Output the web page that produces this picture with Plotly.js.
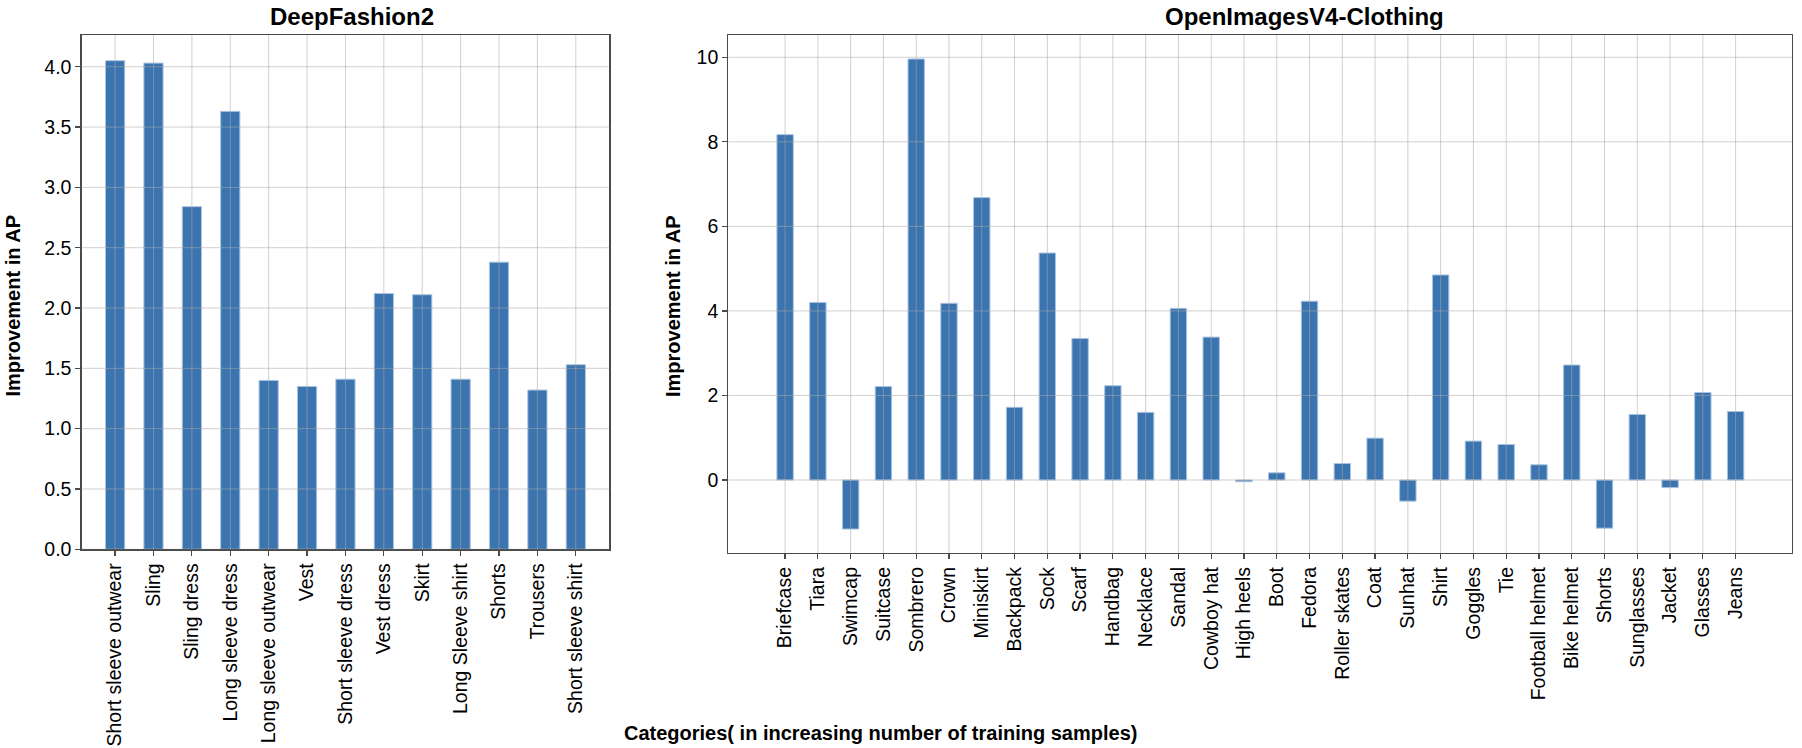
<!DOCTYPE html>
<html>
<head>
<meta charset="utf-8">
<script src="https://cdn.plot.ly/plotly-3.0.1.min.js"></script>
<style>
  html, body { margin: 0; padding: 0; background: #fff; }
  #chart { width: 1802px; height: 748px; }
</style>
</head>
<body>
<div id="chart"></div>
<script>
// DeepFashion2 categories and AP improvements
const dfCategories = ['Short sleeve outwear', 'Sling', 'Sling dress', 'Long sleeve dress',
    'Long sleeve outwear', 'Vest', 'Short sleeve dress', 'Vest dress', 'Skirt',
    'Long Sleeve shirt', 'Shorts', 'Trousers', 'Short sleeve shirt'];
const dfValues = [4.05, 4.03, 2.84, 3.63, 1.40, 1.35, 1.41, 2.12, 2.11, 1.41, 2.38, 1.32, 1.53];

// OpenImagesV4-Clothing categories and AP improvements
const oiCategories = ['Briefcase', 'Tiara', 'Swimcap', 'Suitcase', 'Sombrero', 'Crown',
    'Miniskirt', 'Backpack', 'Sock', 'Scarf', 'Handbag', 'Necklace', 'Sandal', 'Cowboy hat',
    'High heels', 'Boot', 'Fedora', 'Roller skates', 'Coat', 'Sunhat', 'Shirt', 'Goggles',
    'Tie', 'Football helmet', 'Bike helmet', 'Shorts', 'Sunglasses', 'Jacket', 'Glasses', 'Jeans'];
const oiValues = [8.17, 4.20, -1.16, 2.21, 9.96, 4.18, 6.68, 1.72, 5.37, 3.35, 2.23, 1.60,
    4.06, 3.38, -0.04, 0.17, 4.23, 0.39, 0.99, -0.50, 4.85, 0.92, 0.84, 0.36, 2.72, -1.14,
    1.55, -0.18, 2.07, 1.62];

const dfTicks = [0, 0.5, 1.0, 1.5, 2.0, 2.5, 3.0, 3.5, 4.0];
const oiTicks = [0, 2, 4, 6, 8, 10];

const W = 1802, H = 748;
const px = x => x / W;
const py = y => 1 - y / H;

const BAR_COLOR = '#3b74af';
const EDGE_COLOR = '#a8c4e2';
const GRID_COLOR = 'rgba(170,170,170,0.55)';
const SPINE_COLOR = '#4a4a4a';
const FONT = 'Liberation Sans, Arial, Helvetica, sans-serif';

const data_ply = [
    {
        type: 'bar',
        x: dfCategories,
        y: dfValues,
        width: 0.5,
        marker: { color: BAR_COLOR, line: { color: EDGE_COLOR, width: 1 } },
        xaxis: 'x',
        yaxis: 'y',
        hoverinfo: 'x+y'
    },
    {
        type: 'bar',
        x: oiCategories,
        y: oiValues,
        width: 0.5,
        marker: { color: BAR_COLOR, line: { color: EDGE_COLOR, width: 1 } },
        xaxis: 'x2',
        yaxis: 'y2',
        hoverinfo: 'x+y'
    }
];

// grid drawn over the bars, like the original
const shapes = [];
function addGrid(cats, ticks, xr, yr) {
    cats.forEach(c => shapes.push({
        type: 'line', layer: 'above', xref: xr, yref: yr + ' domain',
        x0: c, x1: c, y0: 0, y1: 1, line: { color: GRID_COLOR, width: 1 }
    }));
    ticks.forEach(v => shapes.push({
        type: 'line', layer: 'above', xref: xr + ' domain', yref: yr,
        x0: 0, x1: 1, y0: v, y1: v, line: { color: GRID_COLOR, width: 1 }
    }));
}
addGrid(dfCategories, dfTicks, 'x', 'y');
addGrid(oiCategories, oiTicks, 'x2', 'y2');

const tickFont = { family: FONT, size: 19.5, color: '#000' };
const axisCommon = {
    showline: true,
    mirror: true,
    linecolor: SPINE_COLOR,
    linewidth: 1.2,
    ticks: 'outside',
    ticklen: 5,
    tickwidth: 1.2,
    tickcolor: SPINE_COLOR,
    showgrid: false,
    zeroline: false,
    tickfont: tickFont,
    fixedrange: true
};

const titleFont = { family: FONT, size: 24, color: '#000', weight: 'bold' };
const labelFont = { family: FONT, size: 20, color: '#000', weight: 'bold' };

const layout = {
    width: W,
    height: H,
    margin: { l: 0, r: 0, t: 0, b: 0, autoexpand: false },
    paper_bgcolor: '#fff',
    plot_bgcolor: '#fff',
    showlegend: false,
    bargap: 0,
    xaxis: Object.assign({}, axisCommon, {
        domain: [px(81.5), px(609.4)],
        anchor: 'y',
        type: 'category',
        range: [-0.875, dfCategories.length - 0.125],
        tickangle: -90
    }),
    yaxis: Object.assign({}, axisCommon, {
        domain: [py(549.3), py(35)],
        anchor: 'x',
        range: [0, 4.263],
        tickvals: dfTicks,
        tickformat: '.1f'
    }),
    xaxis2: Object.assign({}, axisCommon, {
        domain: [px(728.4), px(1792)],
        anchor: 'y2',
        type: 'category',
        range: [-1.73, oiCategories.length + 0.72],
        tickangle: -90
    }),
    yaxis2: Object.assign({}, axisCommon, {
        domain: [py(553), py(35)],
        anchor: 'x2',
        range: [-1.727, 10.527],
        tickvals: oiTicks
    }),
    shapes: shapes,
    annotations: [
        { text: 'DeepFashion2', x: px(352), y: py(17), font: titleFont },
        { text: 'OpenImagesV4-Clothing', x: px(1304), y: py(17), font: titleFont },
        { text: 'Improvement in AP', x: px(12.5), y: py(306), textangle: -90, font: labelFont },
        { text: 'Improvement in AP', x: px(673), y: py(306), textangle: -90, font: labelFont },
        { text: 'Categories( in increasing number of training samples)', x: px(880), y: py(733), font: labelFont }
    ].map(a => Object.assign({
        xref: 'paper', yref: 'paper', showarrow: false,
        xanchor: 'center', yanchor: 'middle'
    }, a))
};

Plotly.newPlot('chart', data_ply, layout, { displayModeBar: false, staticPlot: true });
</script>
</body>
</html>
